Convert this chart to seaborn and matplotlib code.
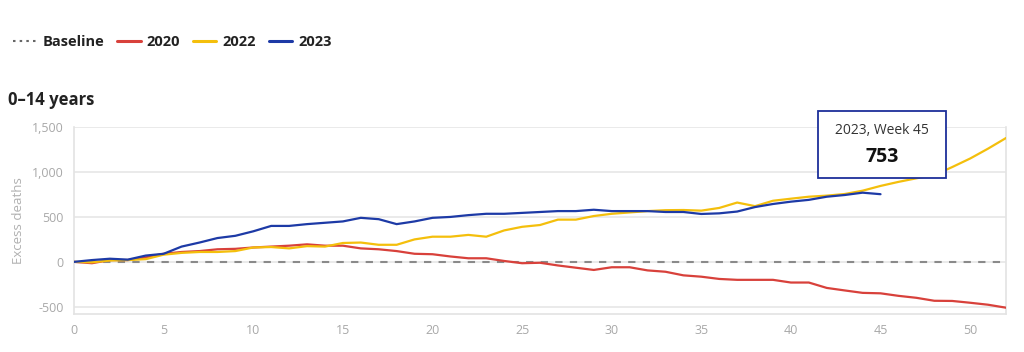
import matplotlib
matplotlib.use("Agg")
import matplotlib.pyplot as plt
import matplotlib.ticker as mticker
from matplotlib.lines import Line2D
from matplotlib.patches import Rectangle
import seaborn as sns
import pandas as pd

weeks = list(range(53))
y2020 = [0, -15, 20, 20, 50, 90, 110, 120, 140, 145, 160, 170, 180, 195, 180, 180, 150, 140, 120, 90,
         85, 60, 40, 40, 10, -15, -10, -40, -65, -90, -60, -60, -95, -110, -150, -165, -190, -200, -200, -200,
         -230, -230, -290, -318, -345, -350, -378, -400, -433, -435, -455, -477, -510]
y2022 = [0, -5, 15, 20, 30, 80, 100, 110, 110, 120, 160, 165, 150, 175, 170, 210, 215, 190, 190, 250,
         280, 280, 300, 280, 350, 390, 410, 470, 470, 510, 535, 550, 565, 575, 577, 570, 600, 660, 620, 680,
         703, 725, 737, 755, 792, 845, 890, 930, 965, 1055, 1150, 1260, 1378]
y2023 = [0, 20, 35, 25, 70, 90, 170, 215, 265, 290, 340, 400, 400, 420, 435, 450, 490, 475, 420, 450,
         490, 500, 520, 535, 535, 545, 555, 565, 565, 580, 565, 565, 565, 555, 555, 533, 540, 560, 610, 644,
         670, 690, 725, 744, 770, 753]

series_names = ["2020", "2022", "2023"]
colors = {"2020": "#d8413b", "2022": "#f4bf0c", "2023": "#1d3aa6"}

rows = []
for name, vals in zip(series_names, [y2020, y2022, y2023]):
    for w, v in zip(weeks, vals):
        rows.append({"week": w, "value": v, "year": name})
df = pd.DataFrame(rows)

sns.set_theme(style="white")
plt.rcParams["font.family"] = ["Open Sans", "DejaVu Sans"]

fig = plt.figure(figsize=(10.24, 3.52), dpi=100)
ax = fig.add_axes([0.0723, 0.108, 0.9101, 0.531])

ax.axhline(0, color="#8a8a8a", lw=1.5, ls=(0, (3.5, 3.5)), zorder=1)
sns.lineplot(data=df, x="week", y="value", hue="year", palette=colors, lw=1.6,
             ax=ax, legend=False, zorder=3)

ax.set_xlim(0, 52)
ax.set_ylim(-580, 1500)
ax.set_yticks([-500, 0, 500, 1000, 1500])
ax.set_xticks([0, 5, 10, 15, 20, 25, 30, 35, 40, 45, 50])
ax.yaxis.set_major_formatter(mticker.FuncFormatter(lambda v, p: f"{int(v):,}"))
ax.grid(axis="y", color="#e6e6e6", lw=1.2)
ax.set_axisbelow(True)
for s in ["left", "bottom", "right"]:
    ax.spines[s].set_color("#e3e3e3")
    ax.spines[s].set_linewidth(1.2)
ax.spines["top"].set_visible(False)
ax.tick_params(axis="both", colors="#a8a8a8", labelsize=9, length=4, width=1)
ax.set_xlabel("")
ax.set_ylabel("Excess deaths", color="#b0b0b0", fontsize=9.5, labelpad=5)

# Legend
handles = [Line2D([], [], color="#666666", lw=1.5, ls=(0, (1.2, 2))),
           Line2D([], [], color=colors["2020"], lw=2.2),
           Line2D([], [], color=colors["2022"], lw=2.2),
           Line2D([], [], color=colors["2023"], lw=2.2)]
labels = ["Baseline", "2020", "2022", "2023"]
leg = fig.legend(handles, labels, loc="center left", bbox_to_anchor=(0.0, 0.88), ncol=4,
                 frameon=False, handlelength=1.6, handletextpad=0.4, columnspacing=0.9,
                 prop={"weight": "bold", "size": 10.5})
for t in leg.get_texts():
    t.set_color("#222222")

fig.text(0.008, 0.715, "0–14 years", fontsize=12, fontweight="bold", color="#222222",
         va="center", ha="left")

# Tooltip
bx0, by0, bw, bh = 818 / 1024, 1 - 178 / 352, 128 / 1024, 67 / 352
fig.patches.append(Rectangle((bx0, by0), bw, bh, transform=fig.transFigure,
                             facecolor="white", edgecolor="#1d2f9a", lw=1.3, zorder=10))
fig.text(bx0 + bw / 2, 1 - 131 / 352, "2023, Week 45", ha="center", va="center",
         fontsize=10, color="#333333", zorder=11)
fig.text(bx0 + bw / 2, 1 - 157 / 352, "753", ha="center", va="center",
         fontsize=14, fontweight="bold", color="#111111", zorder=11)

fig.savefig("out.png", dpi=100, facecolor="white")
